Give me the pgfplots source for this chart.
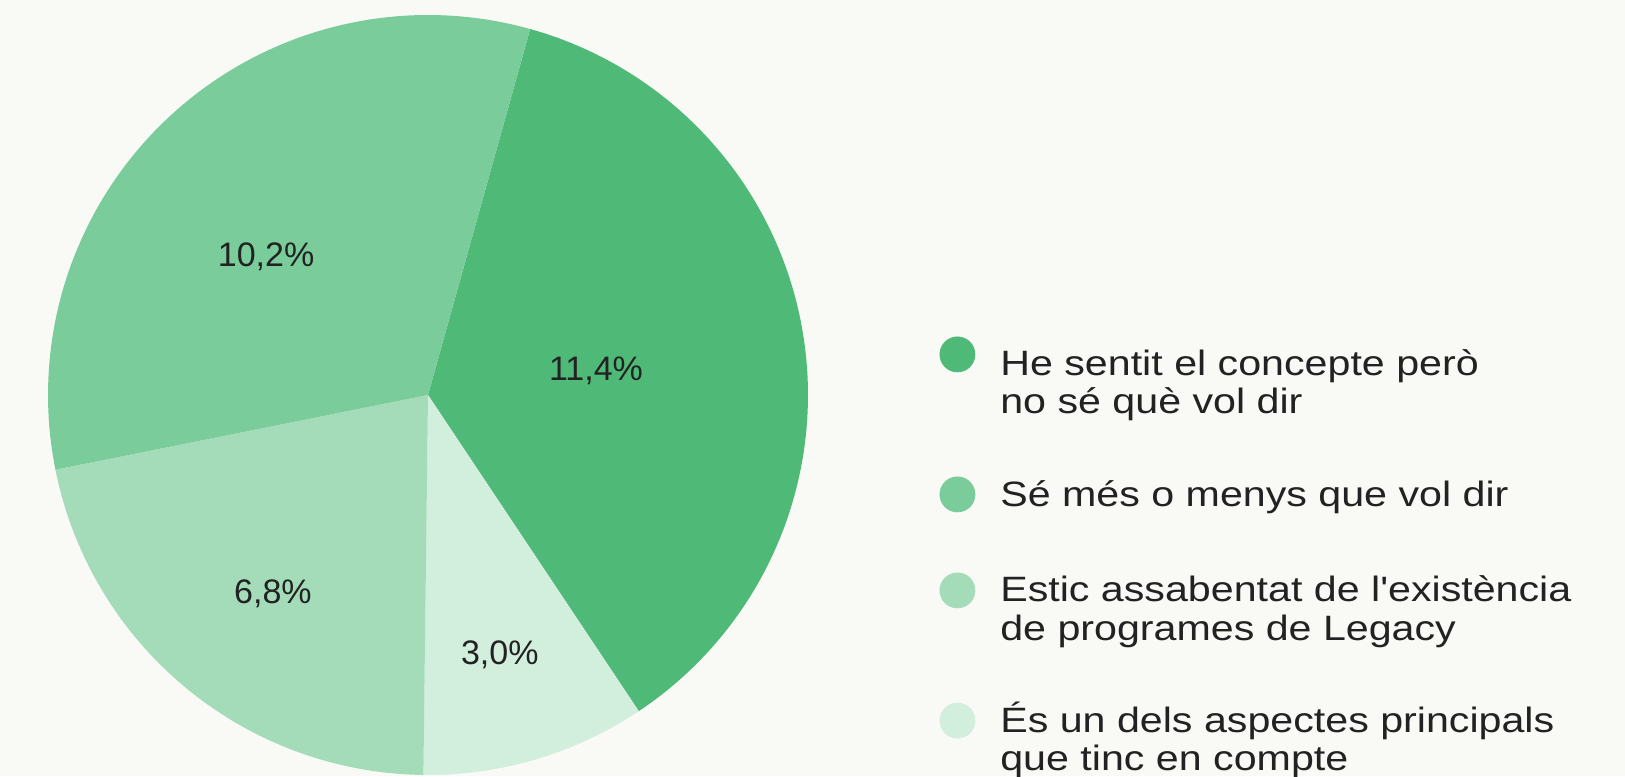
\documentclass[border=0pt]{standalone}
\usepackage{pgfplots}
\usepackage{pgfplotstable}
\pgfplotsset{compat=1.18}
\usepackage{fontspec}
\setmainfont{Liberation Sans}[FakeStretch=1.17, Ligatures=TeXOff]
\newfontfamily\labfont{Liberation Sans}
\definecolor{bg}{HTML}{F9FAF6}
\definecolor{cA}{HTML}{4FBA77}
\definecolor{cB}{HTML}{D2EEDD}
\definecolor{cC}{HTML}{A4DCBA}
\definecolor{cD}{HTML}{7ACC9A}
\definecolor{txt}{HTML}{222222}
\newcommand\lline[1]{\hbox{\rule[-4pt]{0pt}{19pt}\smash{#1}}}
\newcommand\ltwo[2]{\vbox{\baselineskip=19.15pt\lline{#1}\lline{#2}}}
\pgfplotstableread{
value
11.4
3.0
6.8
10.2
}\piedata
\begin{document}
\begin{tikzpicture}
\pgfplotstablegetelem{0}{value}\of\piedata \let\vA\pgfplotsretval
\pgfplotstablegetelem{1}{value}\of\piedata \let\vB\pgfplotsretval
\pgfplotstablegetelem{2}{value}\of\piedata \let\vC\pgfplotsretval
\pgfplotstablegetelem{3}{value}\of\piedata \let\vD\pgfplotsretval
\pgfmathsetmacro\tot{\vA+\vB+\vC+\vD}
\pgfmathsetmacro\aO{74.4}
\pgfmathsetmacro\aA{\aO-360*\vA/\tot}
\pgfmathsetmacro\aB{\aA-360*\vB/\tot}
\pgfmathsetmacro\aC{\aB-360*\vC/\tot}
\pgfmathsetmacro\aD{\aC-360*\vD/\tot}
\fill[bg] (0,0) rectangle (812.5pt,388pt);
\useasboundingbox (0,0) rectangle (812.5pt,388pt);
\begin{axis}[
  hide axis, scale only axis, width=380pt, height=380pt,
  xmin=-1, xmax=1, ymin=-1, ymax=1,
  at={(214pt,190.5pt)}, anchor=center, clip=false,
  legend style={at={(axis cs:1.3461,0.15395)}, anchor=north west, draw=none, fill=none,
    inner sep=0pt, outer sep=0pt,
    font=\fontsize{17.6pt}{19.15pt}\selectfont, text=txt,
    nodes={inner sep=0pt, outer sep=0pt},
    cells={anchor=base west},
    row sep=29.75pt,
    /tikz/every odd column/.append style={column sep=12.5pt}},
]
\addplot[fill=cA, draw=none, domain=\aA:\aO, samples=120, variable=\t, forget plot] ({cos(t)},{sin(t)}) -- (axis cs:0,0) -- cycle;
\addplot[fill=cB, draw=none, domain=\aB:\aA, samples=60, variable=\t, forget plot] ({cos(t)},{sin(t)}) -- (axis cs:0,0) -- cycle;
\addplot[fill=cC, draw=none, domain=\aC:\aB, samples=80, variable=\t, forget plot] ({cos(t)},{sin(t)}) -- (axis cs:0,0) -- cycle;
\addplot[fill=cD, draw=none, domain=\aD:\aC, samples=120, variable=\t, forget plot] ({cos(t)},{sin(t)}) -- (axis cs:0,0) -- cycle;
\addlegendimage{legend image code/.code={\fill[cA] (8.75pt,29.65pt) circle (8.75pt);}}
\addlegendentry{\ltwo{He sentit el concepte però}{no sé què vol dir}}
\addlegendimage{legend image code/.code={\fill[cD] (8.75pt,5.9pt) circle (8.75pt);}}
\addlegendentry{\lline{Sé més o menys que vol dir}}
\addlegendimage{legend image code/.code={\fill[cC] (8.75pt,24.85pt) circle (8.75pt);}}
\addlegendentry{\ltwo{Estic assabentat de l'existència}{de programes de Legacy}}
\addlegendimage{legend image code/.code={\fill[cB] (8.75pt,25.15pt) circle (8.75pt);}}
\addlegendentry{\ltwo{És un dels aspectes principals}{que tinc en compte}}
\node[text=txt, font=\labfont\fontsize{17pt}{20pt}\selectfont] at (axis cs:0.442,0.063) {11,4\%};
\node[text=txt, font=\labfont\fontsize{17pt}{20pt}\selectfont] at (axis cs:-0.426,0.363) {10,2\%};
\node[text=txt, font=\labfont\fontsize{17pt}{20pt}\selectfont] at (axis cs:-0.408,-0.523) {6,8\%};
\node[text=txt, font=\labfont\fontsize{17pt}{20pt}\selectfont] at (axis cs:0.189,-0.684) {3,0\%};
\end{axis}
\end{tikzpicture}
\end{document}
